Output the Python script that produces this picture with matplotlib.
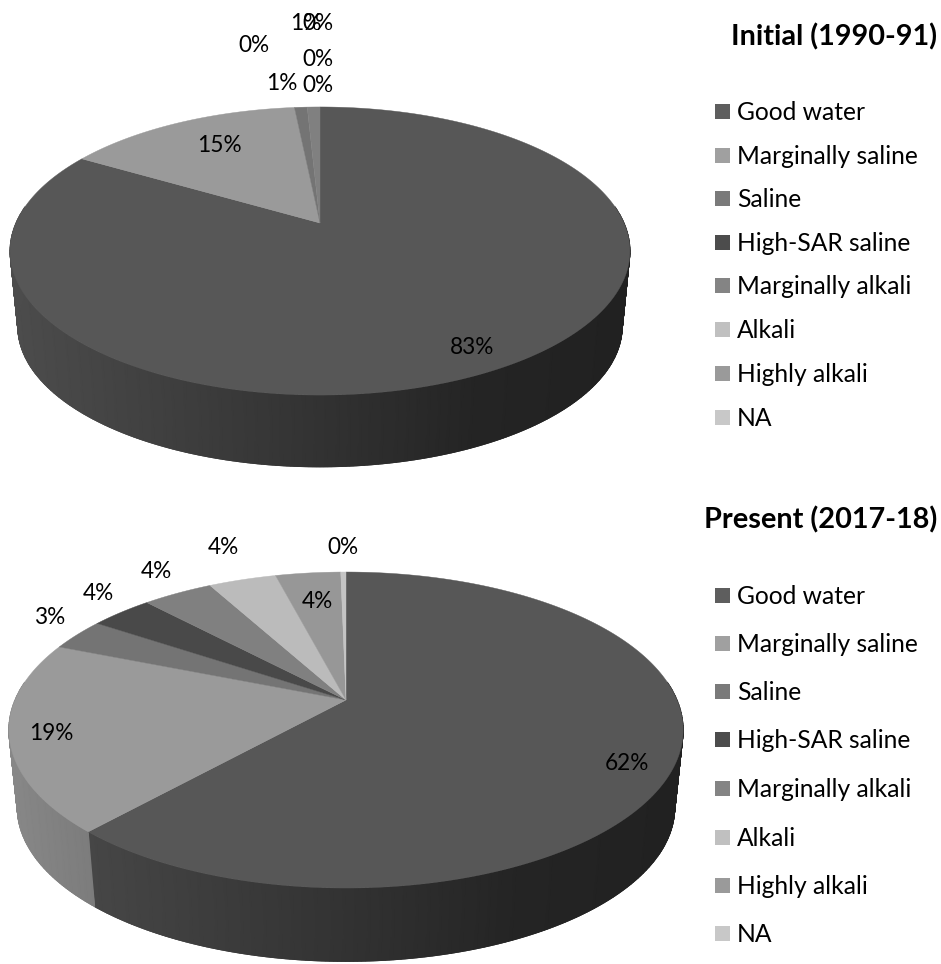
# plot.py - two 3D-look pies, drawn with a simple perspective projection
import numpy as np
import matplotlib
matplotlib.use("Agg")
import matplotlib.pyplot as plt
from matplotlib.collections import LineCollection

plt.rcParams['font.family'] = ['Lato', 'DejaVu Sans']

categories = ['Good water', 'Marginally saline', 'Saline', 'High-SAR saline',
              'Marginally alkali', 'Alkali', 'Highly alkali', 'NA']

# percent values read from the slice boundaries
initial_values = [83.49, 14.9, 0.8, 0.0, 0.8, 0.0, 0.0, 0.0]
present_values = [61.6, 19.4, 3.3, 3.6, 4.05, 3.9, 3.75, 0.3]

slice_colors = ['#575757', '#9a9a9a', '#747474', '#494949',
                '#808080', '#bbbbbb', '#979797', '#c4c4c4']
swatch_colors = ['#5e5e5e', '#a0a0a0', '#7a7a7a', '#4c4c4c',
                 '#848484', '#c0c0c0', '#9a9a9a', '#c8c8c8']

initial_title = 'Initial (1990-91)'
present_title = 'Present (2017-18)'

# pixel centres of the percent labels, same order as categories
initial_label_pos = [(472, 347), (219, 145), (282, 83), (254, 45),
                     (306, 23), (318, 85), (318, 60), (318, 23)]
present_label_pos = [(627, 764), (51, 734), (50, 617), (98, 593),
                     (156, 571), (223, 548), (317, 602), (343, 547)]

initial_legend_y = [111, 155, 198, 242, 285, 329, 373, 417]
present_legend_y = [595, 643, 691, 739, 788, 837, 885, 933]

PCT_SIZE = 16.3
LEGEND_SIZE = 17.75
TITLE_SIZE = 20.8
W, H = 941, 964
# only this part of the rim can be seen from the front
RIM_START, RIM_END = 1.45, 2 * np.pi - 1.45


def project(t, cx, cy, a, b, k, depth=0.0, scale=1.0):
    # t is the clockwise angle from the top of the pie
    u, v = np.sin(t), np.cos(t)
    w = 1 + k * v
    return cx + scale * a * u / w, cy + depth - scale * b * v / w


def side_factor(x, left, right):
    # the rim gets darker towards the right
    frac = np.clip((x - left) / (right - left), 0, 1)
    return np.interp(frac, [0, 0.5, 0.75, 1], [0.88, 0.58, 0.42, 0.38])


def draw_pie(ax, values, cx, cy, a, b, k, depth, left, right):
    values = np.array(values, dtype=float)
    edges = np.concatenate([[0], np.cumsum(values) / values.sum()]) * 2 * np.pi

    # rim first, the top face goes over it
    for i, col in enumerate(slice_colors):
        start, end = max(edges[i], RIM_START), min(edges[i + 1], RIM_END)
        if end <= start:
            continue
        n = max(2, int((end - start) / 0.01))
        t = np.linspace(start, end, n + 1)
        x0, y0 = project(t, cx, cy, a, b, k)
        x1, y1 = project(t, cx, cy, a, b, k, depth, 0.975)
        grey = int(col[1:3], 16) / 255 * side_factor(0.5 * (x0 + x1), left, right)
        ax.pcolormesh(np.array([x0, x1]), np.array([y0, y1]), np.array([grey, grey]),
                      shading='gouraud', cmap='gray', vmin=0, vmax=1, zorder=1)
        # thin line so the lower edge is not jagged
        pts = np.column_stack([x1, y1])
        segs = np.stack([pts[:-1], pts[1:]], axis=1)
        ax.add_collection(LineCollection(segs, colors=[(g, g, g) for g in grey[:-1]],
                                         linewidths=0.8, zorder=2))

    for i, col in enumerate(slice_colors):
        if values[i] <= 0:
            continue
        n = max(2, int((edges[i + 1] - edges[i]) / 0.005))
        t = np.linspace(edges[i], edges[i + 1], n + 1)
        x, y = project(t, cx, cy, a, b, k)
        ax.fill(np.r_[cx, x], np.r_[cy, y], color=col, lw=0.3, zorder=3)


def draw_labels(ax, values, positions):
    for v, (x, y) in zip(values, positions):
        ax.text(x, y, f'{int(round(v))}%', ha='center', va='center',
                fontsize=PCT_SIZE, color='black', zorder=5)


def draw_legend(ax, title, title_y, legend_y):
    ax.text(937, title_y, title, ha='right', va='center', fontsize=TITLE_SIZE,
            fontweight='bold', color='black')
    for name, col, y in zip(categories, swatch_colors, legend_y):
        ax.fill([715, 730, 730, 715], [y - 7.5, y - 7.5, y + 7.5, y + 7.5],
                color=col, lw=0)
        ax.text(737, y + 1.5, name, ha='left', va='center', fontsize=LEGEND_SIZE,
                color='black')


fig = plt.figure(figsize=(W / 100, H / 100), dpi=100)
ax = fig.add_axes([0, 0, 1, 1])

draw_pie(ax, initial_values, 320, 223, 304, 138.6, 0.1945, 76, 10, 630)
draw_pie(ax, present_values, 346, 700, 331, 152.3, 0.19, 78, 10, 684)

draw_labels(ax, initial_values, initial_label_pos)
draw_labels(ax, present_values, present_label_pos)

draw_legend(ax, initial_title, 37, initial_legend_y)
draw_legend(ax, present_title, 520, present_legend_y)

ax.set_xlim(0, W)
ax.set_ylim(H, 0)
ax.axis('off')

fig.savefig('out.png', dpi=100)
